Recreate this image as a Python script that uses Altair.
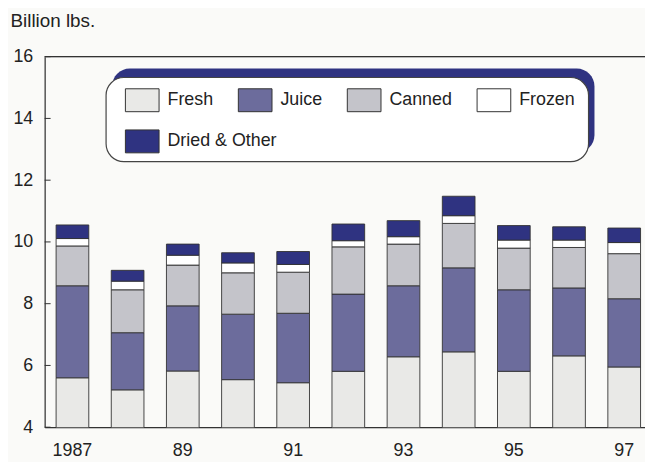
import altair as alt
import pandas as pd

# ---- data (billion lbs.) ----
years = [1987, 1988, 1989, 1990, 1991, 1992, 1993, 1994, 1995, 1996, 1997]
year_labels = ["1987", "", "89", "", "91", "", "93", "", "95", "", "97"]
categories = ["Fresh", "Juice", "Canned", "Frozen", "Dried & Other"]
fresh = [5.60, 5.21, 5.82, 5.54, 5.44, 5.81, 6.28, 6.44, 5.81, 6.31, 5.95]
juice = [2.98, 1.85, 2.11, 2.12, 2.25, 2.50, 2.30, 2.72, 2.64, 2.20, 2.21]
canned = [1.29, 1.39, 1.32, 1.34, 1.33, 1.53, 1.35, 1.44, 1.35, 1.31, 1.46]
frozen = [0.24, 0.28, 0.32, 0.32, 0.25, 0.20, 0.24, 0.25, 0.26, 0.24, 0.36]
dried = [0.44, 0.35, 0.36, 0.33, 0.42, 0.54, 0.52, 0.63, 0.47, 0.43, 0.47]
y_ticks = [4, 6, 8, 10, 12, 14, 16]

colors = ["#e9e9e7", "#6c6c9c", "#c4c4ca", "#ffffff", "#2f3381"]
FONT = "Liberation Sans"

series = {"Fresh": fresh, "Juice": juice, "Canned": canned,
          "Frozen": frozen, "Dried & Other": dried}
rows = []
for ci, cat in enumerate(categories):
    for yr, v in zip(years, series[cat]):
        rows.append({"year": yr, "category": cat, "value": v, "order": ci})
df = pd.DataFrame(rows)

W, H = 606, 374
yscale = alt.Scale(domain=[4, 16], nice=False, zero=False)
yaxis = alt.Axis(values=y_ticks, ticks=False, tickSize=0, labelPadding=12,
                 labelFontSize=18, labelFont=FONT, labelColor="#222222",
                 domainColor="#333333", domainWidth=1.2, grid=False,
                 titleAngle=0, titleX=-35, titleY=-30,
                 titleAlign="left", titleBaseline="alphabetic",
                 titleFontSize=19, titleFont=FONT, titleFontWeight="normal",
                 titleColor="#222222")
YTITLE = "Billion lbs."

label_expr = ("[" + ",".join(f"'{l}'" for l in year_labels) + "][indexof(["
              + ",".join(str(y) for y in years) + "], datum.value)]")

xenc = alt.X("year:O", title=None,
             scale=alt.Scale(paddingInner=0.4075, paddingOuter=0.144, align=0.72, round=False),
             axis=alt.Axis(labelExpr=label_expr, labelAngle=0, ticks=False, tickSize=0,
                           labelPadding=15, labelFontSize=18, labelFont=FONT,
                           labelColor="#222222", domainColor="#333333", domainWidth=1.2))

legend_common = dict(orient="none", direction="horizontal",
                     symbolType="M-1,-0.68H1V0.68H-1Z", symbolSize=1156,
                     symbolStrokeColor="#333333", symbolStrokeWidth=1,
                     symbolOpacity=1, labelFontSize=18, labelFont=FONT,
                     labelColor="#222222", labelOffset=8, padding=0)

bars = alt.Chart(df).mark_bar(stroke="#333333", strokeWidth=0.9, clip=True).encode(
    x=xenc,
    y=alt.Y("value:Q", stack="zero", scale=yscale, axis=yaxis, title=YTITLE),
    fill=alt.Fill("category:N", title=None,
                  scale=alt.Scale(domain=categories, range=colors),
                  legend=alt.Legend(values=categories[:4], legendX=81, legendY=26,
                                    columns=4, columnPadding=22, **legend_common)),
    order=alt.Order("order:Q", sort="ascending"),
)

# second legend row ("Dried & Other"), carried by an invisible layer
dried_key = alt.Chart(df).transform_filter(
    alt.datum.category == categories[4]
).mark_point(filled=True, opacity=0, clip=True).encode(
    x=xenc,
    y=alt.Y("value:Q", scale=yscale, axis=yaxis, title=YTITLE),
    color=alt.Color("category:N", title=None,
                    scale=alt.Scale(domain=categories[4:], range=colors[4:]),
                    legend=alt.Legend(legendX=81, legendY=68, **legend_common)),
)

ticks = alt.Chart(pd.DataFrame({"tick": y_ticks})).mark_rule(
    color="#333333", strokeWidth=1).encode(
    y=alt.Y("tick:Q", scale=yscale, axis=yaxis, title=YTITLE),
    x=alt.value(0), x2=alt.value(6))

top_line = alt.Chart(pd.DataFrame({"top": [16]})).mark_rule(
    color="#333333", strokeWidth=1.2).encode(
    y=alt.Y("top:Q", scale=yscale, axis=yaxis, title=YTITLE),
    x=alt.value(0), x2=alt.value(W))

shadow = alt.Chart(alt.Data(values=[{"k": 1}])).mark_rect(
    fill="#2f3381", cornerRadius=18).encode(
    x=alt.value(68), x2=alt.value(555), y=alt.value(12), y2=alt.value(97))

box = alt.Chart(alt.Data(values=[{"k": 1}])).mark_rect(
    fill="#ffffff", stroke="#444444", strokeWidth=1.2, cornerRadius=18).encode(
    x=alt.value(62), x2=alt.value(549), y=alt.value(21), y2=alt.value(106))

chart = alt.layer(shadow, box, top_line, bars, dried_key, ticks).properties(
    width=W, height=H,
    autosize=alt.AutoSizeParams(type="none"),
    padding={"left": 37, "top": 47, "right": 0, "bottom": 33},
    background="#fafaf8",
).configure_view(strokeWidth=0).configure(font=FONT)

chart.save("out.html", embed_options={"renderer": "svg", "actions": False})
